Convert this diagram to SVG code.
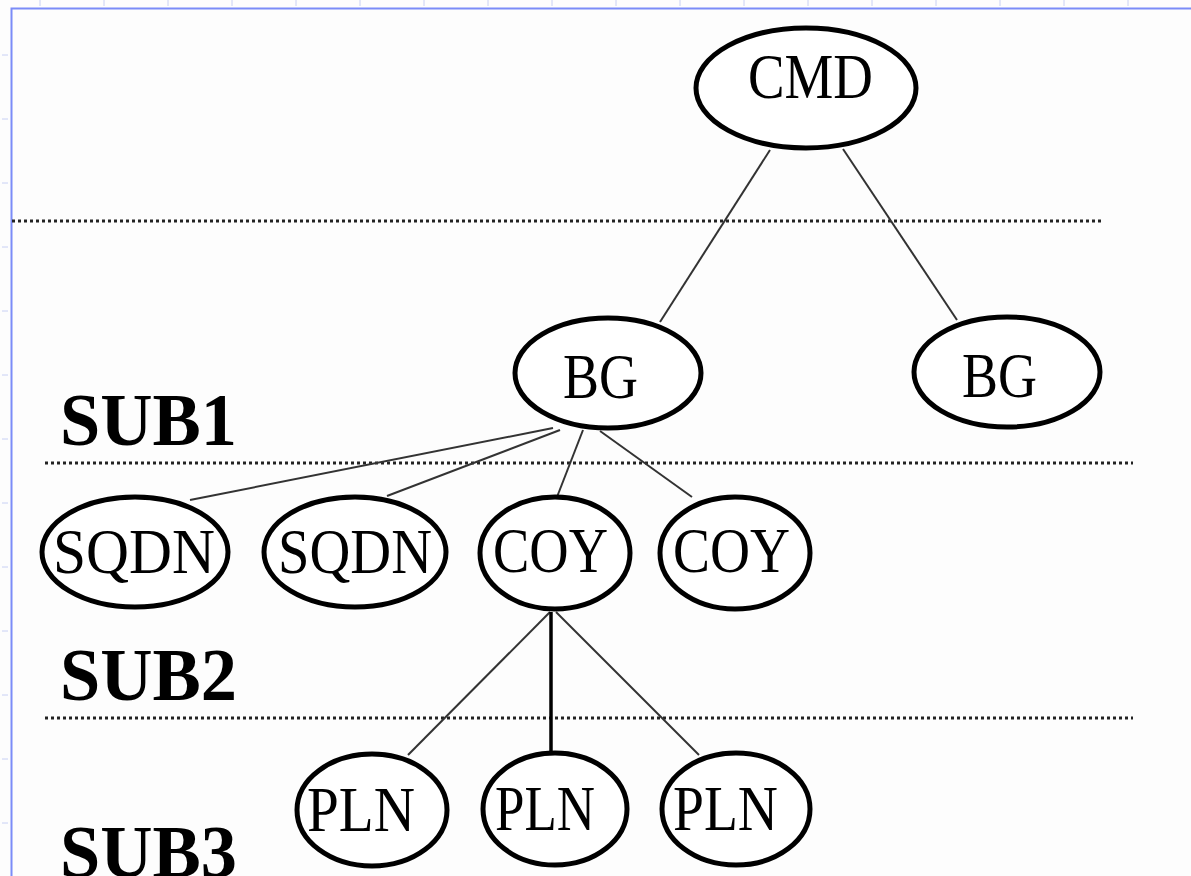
<svg xmlns="http://www.w3.org/2000/svg" width="1191" height="876" viewBox="0 0 1191 876">
<style>
.node ellipse{fill:#ffffff;stroke:#000;stroke-width:5}
.node text{font-family:"Liberation Serif","Times New Roman",serif;font-size:63px;fill:#000}
.lbl{font-family:"Liberation Serif","Times New Roman",serif;font-size:75px;font-weight:bold;fill:#000}
.sep{stroke:#222;stroke-width:3;stroke-dasharray:3 3;fill:none}
.conn line{stroke:#333;stroke-width:2}
.tick{stroke:#c8d0f4;stroke-width:1}
</style>
<rect x="0" y="0" width="1191" height="876" fill="#fdfdfd"/>
<g id="ruler">
<path class="tick" d="M40 0v6M104 0v6M168 0v6M232 0v6M296 0v6M360 0v6M424 0v6M488 0v6M552 0v6M616 0v6M680 0v6M744 0v6M808 0v6M872 0v6M936 0v6M1000 0v6M1064 0v6M1128 0v6"/>
<path class="tick" d="M2 55h6M2 119h6M2 183h6M2 247h6M2 311h6M2 375h6M2 439h6M2 503h6M2 567h6M2 631h6M2 695h6M2 759h6M2 823h6"/>
<path d="M11.5 876V8.5H1191" fill="none" stroke="#7b8cf8" stroke-width="2"/>
</g>
<g id="separators">
<line class="sep" x1="12" y1="221" x2="1103" y2="221"/>
<line class="sep" x1="45" y1="463" x2="1133" y2="463"/>
<line class="sep" x1="45" y1="718" x2="1133" y2="718"/>
</g>
<g id="levels">
<text class="lbl" x="60" y="445" textLength="177" lengthAdjust="spacingAndGlyphs">SUB1</text>
<text class="lbl" x="60" y="700" textLength="177" lengthAdjust="spacingAndGlyphs">SUB2</text>
<text class="lbl" x="60" y="877" textLength="177" lengthAdjust="spacingAndGlyphs">SUB3</text>
</g>
<g id="connectors" class="conn">
<line x1="770" y1="150" x2="660" y2="322"/>
<line x1="843" y1="149" x2="957" y2="320"/>
<line x1="553" y1="428" x2="190" y2="500"/>
<line x1="560" y1="430" x2="387" y2="496"/>
<line x1="583" y1="430" x2="557" y2="497"/>
<line x1="600" y1="431" x2="692" y2="497"/>
<line x1="550" y1="612" x2="408" y2="755"/>
<line x1="551" y1="612" x2="551" y2="754" style="stroke:#000;stroke-width:3.5"/>
<line x1="556" y1="612" x2="699" y2="755"/>
</g>
<g id="n-cmd" class="node"><ellipse cx="806" cy="88" rx="110" ry="60"/><text x="748" y="98" textLength="125" lengthAdjust="spacingAndGlyphs">CMD</text></g>
<g id="n-bg1" class="node"><ellipse cx="608" cy="373" rx="93" ry="55"/><text x="563" y="398" textLength="75" lengthAdjust="spacingAndGlyphs">BG</text></g>
<g id="n-bg2" class="node"><ellipse cx="1007" cy="372" rx="93" ry="55"/><text x="962" y="397" textLength="75" lengthAdjust="spacingAndGlyphs">BG</text></g>
<g id="n-sqdn1" class="node"><ellipse cx="135" cy="552" rx="93" ry="55"/><text x="53" y="573" textLength="162" lengthAdjust="spacingAndGlyphs">SQDN</text></g>
<g id="n-sqdn2" class="node"><ellipse cx="355" cy="552" rx="91" ry="55"/><text x="278" y="573" textLength="154" lengthAdjust="spacingAndGlyphs">SQDN</text></g>
<g id="n-coy1" class="node"><ellipse cx="555" cy="553" rx="75" ry="56"/><text x="493" y="572" textLength="115" lengthAdjust="spacingAndGlyphs">COY</text></g>
<g id="n-coy2" class="node"><ellipse cx="735" cy="553" rx="75" ry="56"/><text x="673" y="572" textLength="117" lengthAdjust="spacingAndGlyphs">COY</text></g>
<g id="n-pln1" class="node"><ellipse cx="372" cy="810" rx="75" ry="56"/><text x="307" y="831" textLength="108" lengthAdjust="spacingAndGlyphs">PLN</text></g>
<g id="n-pln2" class="node"><ellipse cx="555" cy="809" rx="72" ry="56"/><text x="495" y="830" textLength="100" lengthAdjust="spacingAndGlyphs">PLN</text></g>
<g id="n-pln3" class="node"><ellipse cx="736" cy="809" rx="74" ry="56"/><text x="673" y="830" textLength="105" lengthAdjust="spacingAndGlyphs">PLN</text></g>
</svg>
